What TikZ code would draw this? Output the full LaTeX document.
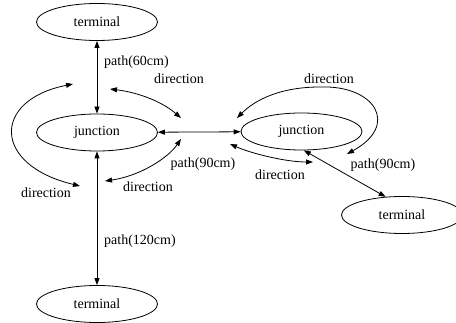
\documentclass[tikz,border=0pt]{standalone}
\usepackage{fontspec}
\setmainfont{Liberation Serif}
\usetikzlibrary{shapes.geometric,arrows.meta}
\begin{document}
\begin{tikzpicture}[x=1pt,y=-1pt,
  every node/.style={font=\fontsize{14}{16}\selectfont},
  nd/.style={draw, ellipse, minimum width=121pt, minimum height=37pt, inner sep=0pt, line width=0.8pt},
  conn/.style={line width=0.8pt, {Triangle[length=7pt,width=5pt]}-{Triangle[length=7pt,width=5pt]}},
  lbl/.style={inner sep=0pt}]
\useasboundingbox (0,0) rectangle (456,323);
\clip (0,0) rectangle (456,323);

% nodes
\node[nd] (tt) at (97,22) {terminal};
\node[nd] (lj) at (97,132.5) {junction};
\node[nd] (bt) at (97,304) {terminal};
\node[nd] (rj) at (301.5,131.5) {junction};
\node[nd] (rt) at (402,215) {terminal};

% straight connectors
\draw[conn] (tt) -- (lj);
\draw[conn] (lj) -- (bt);
\draw[conn] (lj) -- (rj);
\draw[conn] (rj.-83) -- (rt.132);

% free ends of the direction curves
\coordinate (a1) at (110,89);  \coordinate (a2) at (181,118);
\coordinate (b1) at (73,84);   \coordinate (b2) at (80,186);
\coordinate (c1) at (181,139); \coordinate (c2) at (105,181);
\coordinate (d1) at (237,118); \coordinate (dm) at (320,87); \coordinate (d2) at (347,154);
\coordinate (e1) at (230,144); \coordinate (e2) at (313,162);

\draw[conn] (a1) .. controls (135,92) and (160,100) .. (a2);
\draw[conn] (b1) .. controls (-8,100) and (-8,165) .. (b2);
\draw[conn] (c1) .. controls (168,158) and (140,176) .. (c2);
\draw[conn] (d1) .. controls (255,100) and (280,87) .. (dm) .. controls (375,85) and (400,125) .. (d2);
\draw[conn] (e1) .. controls (250,153) and (285,162) .. (e2);

% labels
\node[lbl, anchor=west] (l1) at (104,62) {path(60cm)};
\node[lbl] (l2) at (179,79) {direction};
\node[lbl] (l3) at (46,193) {direction};
\node[lbl] (l4) at (148,187) {direction};
\node[lbl] (l5) at (203,164) {path(90cm)};
\node[lbl, anchor=west] (l6) at (104,241) {path(120cm)};
\node[lbl] (l7) at (329,79) {direction};
\node[lbl] (l8) at (280,175) {direction};
\node[lbl] (l9) at (383,165) {path(90cm)};
\end{tikzpicture}
\end{document}
